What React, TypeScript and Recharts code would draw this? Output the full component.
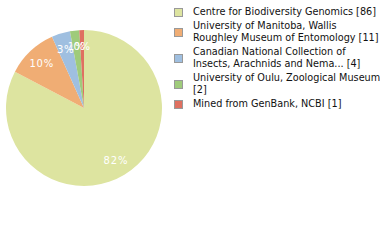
import { PieChart, Pie, Cell } from "recharts"

const names = [
    "Centre for Biodiversity Genomics [86]",
    "University of Manitoba, Wallis Roughley Museum of Entomology [11]",
    "Canadian National Collection of Insects, Arachnids and Nema... [4]",
    "University of Oulu, Zoological Museum [2]",
    "Mined from GenBank, NCBI [1]",
]
const legendLines = [
    ["Centre for Biodiversity Genomics [86]"],
    ["University of Manitoba, Wallis", "Roughley Museum of Entomology [11]"],
    ["Canadian National Collection of", "Insects, Arachnids and Nema... [4]"],
    ["University of Oulu, Zoological Museum", "[2]"],
    ["Mined from GenBank, NCBI [1]"],
]
const counts = [86, 11, 4, 2, 1]
const colors = ["#dde4a0", "#f0ad74", "#9fbfe0", "#9fcb7b", "#df7060"]

const data = names.map((name, i) => ({ name, value: counts[i] }))
const total = counts.reduce((a, b) => a + b, 0)

const RAD = Math.PI / 180

function renderLabel(props: any) {
    const { cx, cy, midAngle, outerRadius, value } = props
    const r = outerRadius * 0.79
    const x = cx + r * Math.cos(-midAngle * RAD)
    const y = cy + r * Math.sin(-midAngle * RAD)
    return (
        <text
            x={x}
            y={y}
            fill="#ffffff"
            fontSize={10}
            fontFamily="DejaVu Sans"
            letterSpacing={0.8}
            textAnchor="middle"
            dominantBaseline="central"
        >
            {Math.floor((value / total) * 100)}%
        </text>
    )
}

function LegendBox() {
    return (
        <div
            style={{
                position: "absolute",
                left: 174,
                top: 6,
                fontFamily: "DejaVu Sans",
                fontSize: 9.7,
                color: "#111",
                lineHeight: "12px",
            }}
        >
            {legendLines.map((lines, i) => (
                <div key={i} style={{ display: "flex", alignItems: "center", marginBottom: 2 }}>
                    <div
                        style={{
                            width: 7,
                            height: 7,
                            background: colors[i],
                            border: "1px solid #999",
                            marginRight: 10,
                            flexShrink: 0,
                        }}
                    />
                    <div>
                        {lines.map((l, j) => (
                            <div key={j} style={{ whiteSpace: "nowrap" }}>{l}</div>
                        ))}
                    </div>
                </div>
            ))}
        </div>
    )
}

export default function App() {
    return (
        <div style={{ position: "relative", width: 380, height: 240 }}>
            <style>{"body{margin:0}"}</style>
            <PieChart width={380} height={240} margin={{ top: 0, right: 0, bottom: 0, left: 0 }}>
                <Pie
                    data={data}
                    dataKey="value"
                    nameKey="name"
                    cx={84}
                    cy={108}
                    outerRadius={78}
                    startAngle={90}
                    endAngle={-270}
                    stroke="none"
                    label={renderLabel}
                    labelLine={false}
                    isAnimationActive={false}
                >
                    {data.map((d, i) => (
                        <Cell key={d.name} fill={colors[i]} />
                    ))}
                </Pie>
            </PieChart>
            <LegendBox />
        </div>
    )
}
